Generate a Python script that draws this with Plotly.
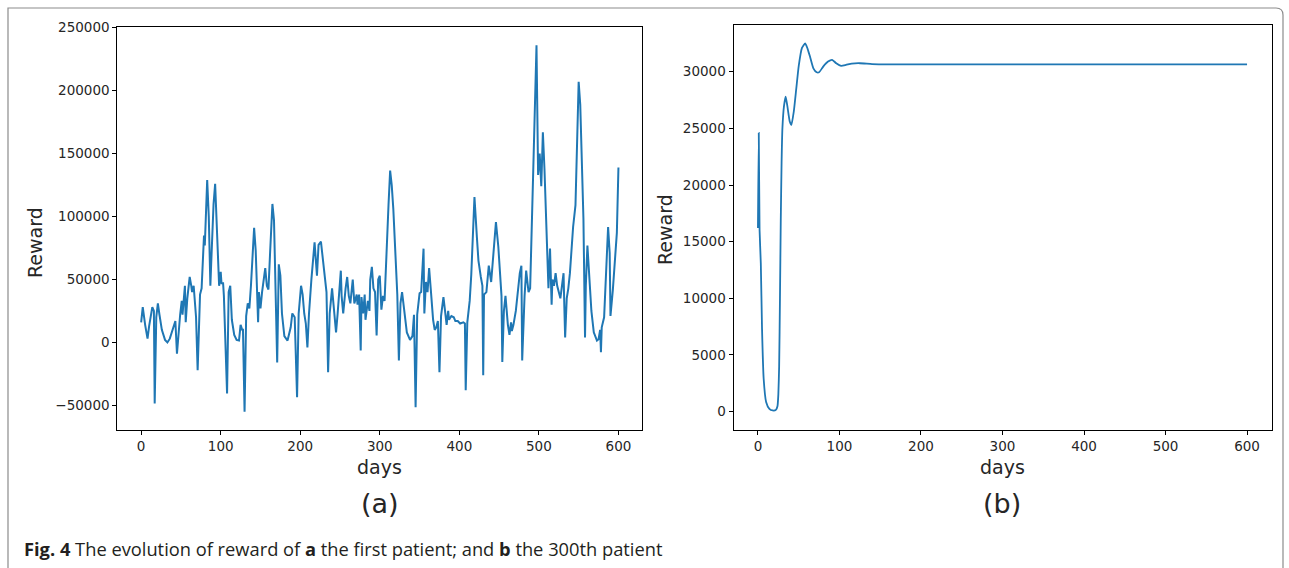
import plotly.graph_objects as go

# ---------- data: panel (a) first patient ----------
days_a = [0, 2, 5, 8, 10, 12, 14, 16, 17, 19, 21, 23, 26, 30, 33, 36, 40, 43, 45, 47,
          49, 51, 52, 55, 56, 58, 61, 63, 64, 66, 67, 69, 71, 73, 74, 76, 79, 80, 83, 85,
          86, 87, 88, 91, 93, 95, 97, 98, 100, 101, 103, 104, 108, 110, 112, 114, 117, 120, 123, 125,
          127, 128, 130, 132, 134, 136, 138, 140, 142, 144, 146, 147, 148, 150, 152, 154, 156, 158, 160, 162,
          165, 167, 169, 171, 173, 175, 177, 180, 184, 188, 190, 193, 196, 198, 201, 203, 205, 207, 209, 211,
          214, 216, 218, 221, 223, 226, 230, 233, 235, 237, 240, 243, 245, 247, 249, 251, 252, 254, 257, 259,
          261, 263, 266, 268, 271, 272, 274, 276, 277, 279, 281, 282, 284, 285, 287, 288, 290, 292, 294, 296,
          298, 300, 302, 304, 306, 308, 311, 313, 315, 317, 320, 322, 324, 326, 328, 331, 334, 338, 341, 343,
          345, 347, 350, 352, 355, 356, 358, 360, 362, 364, 367, 369, 371, 373, 375, 377, 380, 382, 384, 386,
          387, 390, 393, 395, 398, 401, 405, 407, 408, 410, 413, 415, 419, 422, 424, 427, 429, 430, 431, 434,
          437, 440, 442, 446, 449, 453, 454, 456, 458, 461, 463, 465, 466, 468, 471, 476, 478, 479, 482, 484,
          487, 489, 493, 497, 499, 501, 503, 505, 507, 509, 511, 512, 514, 516, 517, 519, 521, 523, 525, 527,
          529, 531, 532, 533, 535, 537, 539, 543, 546, 550, 552, 556, 558, 559, 561, 564, 566, 569, 573, 575,
          577, 578, 579, 582, 584, 587, 589, 590, 593, 595, 598, 600]
reward_a = [16000, 28000, 14000, 3000, 13000, 20000, 28000, 25000, -48500, 20000, 31000, 22000, 10000, 2000, 0, 3000, 10000, 17000, -9000, 9000,
            22000, 33000, 22000, 45000, 16000, 35000, 52000, 45000, 40000, 45000, 37000, 20000, -22000, 25000, 38000, 43000, 85000, 77000, 129000, 100000,
            60000, 45000, 62000, 110000, 126000, 90000, 50000, 45000, 56000, 47000, 47000, 37000, -40500, 40000, 45000, 18000, 6000, 2000, 1500, 14000,
            10000, 10000, -55000, 21000, 31000, 27000, 45000, 70000, 91000, 73000, 40000, 16000, 40000, 27000, 40000, 52000, 59000, 45000, 42000, 70000,
            110000, 97000, 40000, -16000, 62000, 53000, 23000, 5000, 1500, 12000, 23000, 20000, -43500, 23000, 45000, 38000, 23000, 15000, -4000, 23000,
            50000, 65000, 79500, 53000, 77500, 80000, 55000, 40000, -23600, 23000, 43000, 18000, 8000, 23000, 45000, 57000, 37000, 23000, 43000, 52000,
            37000, 31000, 50000, 31000, 38000, 30000, 38000, -6400, 36000, 23000, 38000, 18000, 28000, 33000, 25000, 50000, 60000, 43000, 40000, 5600,
            50000, 53000, 26000, 37000, 33000, 70000, 110000, 136500, 125000, 106000, 60000, 38000, -14300, 31000, 40000, 23000, 8000, 2000, 5000, 22000,
            -51400, 22000, 39000, 40000, 74500, 23000, 48000, 40000, 59000, 43000, 18000, 10000, 12000, 17000, -23600, 21000, 36000, 25000, 14000, 25000,
            18000, 21000, 20000, 17000, 17000, 15000, 16000, 15000, -38000, 16000, 33000, 54000, 115500, 84000, 65000, 52000, 45000, -26000, 38000, 40000,
            61000, 48000, 62000, 95600, 76000, 37000, -15600, 25000, 37000, 14000, 6000, 16000, 9000, 14000, 25000, 55000, 61000, -14300, 37000, 57000,
            40000, 43000, 139000, 236000, 133000, 150000, 124000, 167000, 138000, 99000, 55000, 43000, 74500, 30000, 50000, 45000, 55000, 45000, 40000, 35000,
            45000, 55000, 28000, 4000, 35000, 43000, 55000, 91700, 109000, 207000, 189000, 98000, 4000, 45000, 77000, 45000, 25000, 8000, 1500, 2500,
            10000, -7700, 12000, 20000, 53000, 91700, 71000, 21000, 42000, 62000, 87000, 139000]

# ---------- data: panel (b) 300th patient ----------
days_b = [0, 1, 2, 3.5, 5, 7, 10, 14, 18, 22, 24, 25, 26, 27, 28, 29, 30, 32, 34, 36,
          39, 41, 44, 47, 50, 54, 58, 61, 64, 68, 72, 75, 80, 86, 91, 96, 102, 108, 115, 125,
          140, 160, 200, 300, 400, 500, 600]
reward_b = [16200, 24600, 16000, 13100, 7300, 2900, 850, 240, 100, 150, 500, 1500, 4000, 10000, 17000, 22000, 25000, 27000, 27800, 27000,
            25600, 25300, 26500, 28500, 30500, 32100, 32500, 32000, 31300, 30300, 29950, 29950, 30450, 30900, 31050, 30750, 30520, 30600, 30720, 30750,
            30680, 30650, 30650, 30650, 30650, 30650, 30650]

x_ticks = [0, 100, 200, 300, 400, 500, 600]
ya_ticks = [-50000, 0, 50000, 100000, 150000, 200000, 250000]
ya_text = ["\u221250000", "0", "50000", "100000", "150000", "200000", "250000"]
yb_ticks = [0, 5000, 10000, 15000, 20000, 25000, 30000]
yb_text = ["0", "5000", "10000", "15000", "20000", "25000", "30000"]

W, H = 1289, 568
BLUE = "#1f77b4"
FONT = "DejaVu Sans"
TXT = "#262626"

def px(x):
    return x / W

def py(y):
    return 1 - y / H

fig = go.Figure()
fig.add_trace(go.Scatter(x=days_a, y=reward_a, mode="lines",
                         line=dict(color=BLUE, width=2), xaxis="x", yaxis="y",
                         showlegend=False, hoverinfo="skip"))
fig.add_trace(go.Scatter(x=days_b, y=reward_b, mode="lines",
                         line=dict(color=BLUE, width=1.8, shape="spline", smoothing=0.5),
                         xaxis="x2", yaxis="y2", showlegend=False, hoverinfo="skip"))

axis_common = dict(showline=True, linecolor="black", linewidth=1, mirror=True,
                   ticks="outside", ticklen=4, tickwidth=1, tickcolor="black",
                   showgrid=False, zeroline=False, automargin=False,
                   tickfont=dict(family=FONT, size=13.5, color=TXT))

fig.update_layout(
    width=W, height=H,
    margin=dict(l=0, r=0, t=0, b=0, autoexpand=False),
    paper_bgcolor="white", plot_bgcolor="white",
    xaxis=dict(domain=[px(117.3), px(642.3)], range=[-30, 630], tickvals=x_ticks,
               anchor="y", **axis_common),
    yaxis=dict(domain=[py(430), py(27)], range=[-69550, 250550], tickvals=ya_ticks,
               ticktext=ya_text, anchor="x", **axis_common),
    xaxis2=dict(domain=[px(733.5), px(1271.5)], range=[-30, 630], tickvals=x_ticks,
                anchor="y2", **axis_common),
    yaxis2=dict(domain=[py(430), py(25)], range=[-1625, 34125], tickvals=yb_ticks,
                ticktext=yb_text, anchor="x2", **axis_common),
)

ann = []
def text(x, y, s, size, angle=0, xanchor="center", family=FONT, color=TXT):
    ann.append(dict(x=px(x), y=py(y), xref="paper", yref="paper", text=s,
                    showarrow=False, xanchor=xanchor, yanchor="middle", textangle=angle,
                    font=dict(family=family, size=size, color=color)))

text(379, 467, "days", 19)
text(1002, 467, "days", 19)
text(35, 243, "Reward", 19, angle=-90)
text(665, 230, "Reward", 19, angle=-90)
text(380, 503, "(a)", 27)
text(1002, 503, "(b)", 27)
text(22, 548, "<b>Fig. 4</b> The evolution of reward of <b>a</b> the first patient; and <b>b</b> the 300th patient",
     18.3, xanchor="left", family="Open Sans", color="#231f20")
fig.update_layout(annotations=ann)

# outer figure frame (rounded top-right corner) and clip of right y-title
frame = (f"M {px(8)},{py(568)} L {px(8)},{py(8)} L {px(1276)},{py(8)} "
         f"Q {px(1283)},{py(8)} {px(1283)},{py(15)} L {px(1283)},{py(568)}")
fig.update_layout(shapes=[
    dict(type="path", path=frame, xref="paper", yref="paper",
         line=dict(color="#8c8c8c", width=1.2)),
    dict(type="rect", x0=px(645), x1=px(660), y0=py(290), y1=py(170),
         xref="paper", yref="paper", fillcolor="white", line=dict(width=0), layer="above"),
])

fig.write_html("out.html", config={"displayModeBar": False},
               post_script="document.body.style.margin='0';document.body.style.overflow='hidden';")
